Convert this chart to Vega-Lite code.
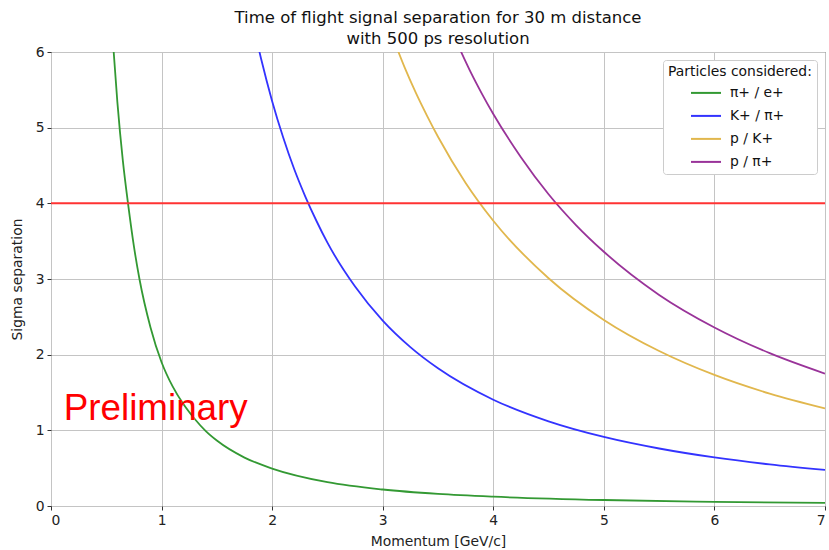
{
  "$schema": "https://vega.github.io/schema/vega-lite/v6.json",
  "autosize": {"type": "none"},
  "padding": {"left": 51, "top": 52, "right": 4, "bottom": 44},
  "width": 774,
  "height": 454,
  "background": "white",
  "title": {
    "text": ["Time of flight signal separation for 30 m distance", "with 500 ps resolution"],
    "font": "DejaVu Sans",
    "fontSize": 16.5,
    "fontWeight": "normal",
    "color": "#111111",
    "lineHeight": 21,
    "offset": -2
  },
  "config": {
    "view": {"stroke": "#333333", "strokeWidth": 1},
    "axis": {
      "labelFont": "DejaVu Sans",
      "labelFontSize": 13.9,
      "labelColor": "#222222",
      "titleFont": "DejaVu Sans",
      "titleFontSize": 13.9,
      "titleFontWeight": "normal",
      "titleColor": "#222222",
      "gridColor": "#c4c4c4",
      "gridWidth": 1,
      "domain": false,
      "tickColor": "#333333",
      "tickSize": 4,
      "labelPadding": 3
    }
  },
  "datasets": {
    "curves": [
      {"p": 0.55, "s": 6.34, "pair": "π+ / e+"},
      {"p": 0.6, "s": 5.34, "pair": "π+ / e+"},
      {"p": 0.65, "s": 4.56, "pair": "π+ / e+"},
      {"p": 0.7, "s": 3.96, "pair": "π+ / e+"},
      {"p": 0.75, "s": 3.43, "pair": "π+ / e+"},
      {"p": 0.8, "s": 3.0, "pair": "π+ / e+"},
      {"p": 0.9, "s": 2.36, "pair": "π+ / e+"},
      {"p": 1.0, "s": 1.9, "pair": "π+ / e+"},
      {"p": 1.1, "s": 1.58, "pair": "π+ / e+"},
      {"p": 1.2, "s": 1.34, "pair": "π+ / e+"},
      {"p": 1.3, "s": 1.15, "pair": "π+ / e+"},
      {"p": 1.4, "s": 0.99, "pair": "π+ / e+"},
      {"p": 1.5, "s": 0.865, "pair": "π+ / e+"},
      {"p": 1.75, "s": 0.64, "pair": "π+ / e+"},
      {"p": 2.0, "s": 0.495, "pair": "π+ / e+"},
      {"p": 2.5, "s": 0.315, "pair": "π+ / e+"},
      {"p": 3.0, "s": 0.218, "pair": "π+ / e+"},
      {"p": 3.5, "s": 0.16, "pair": "π+ / e+"},
      {"p": 4.0, "s": 0.123, "pair": "π+ / e+"},
      {"p": 5.0, "s": 0.079, "pair": "π+ / e+"},
      {"p": 6.0, "s": 0.055, "pair": "π+ / e+"},
      {"p": 7.0, "s": 0.041, "pair": "π+ / e+"},
      {"p": 1.85, "s": 6.22, "pair": "K+ / π+"},
      {"p": 1.9, "s": 5.91, "pair": "K+ / π+"},
      {"p": 2.0, "s": 5.35, "pair": "K+ / π+"},
      {"p": 2.1, "s": 4.87, "pair": "K+ / π+"},
      {"p": 2.2, "s": 4.45, "pair": "K+ / π+"},
      {"p": 2.3, "s": 4.09, "pair": "K+ / π+"},
      {"p": 2.4, "s": 3.77, "pair": "K+ / π+"},
      {"p": 2.5, "s": 3.48, "pair": "K+ / π+"},
      {"p": 2.75, "s": 2.9, "pair": "K+ / π+"},
      {"p": 3.0, "s": 2.45, "pair": "K+ / π+"},
      {"p": 3.25, "s": 2.1, "pair": "K+ / π+"},
      {"p": 3.5, "s": 1.82, "pair": "K+ / π+"},
      {"p": 4.0, "s": 1.405, "pair": "K+ / π+"},
      {"p": 4.5, "s": 1.119, "pair": "K+ / π+"},
      {"p": 5.0, "s": 0.913, "pair": "K+ / π+"},
      {"p": 5.5, "s": 0.76, "pair": "K+ / π+"},
      {"p": 6.0, "s": 0.642, "pair": "K+ / π+"},
      {"p": 6.5, "s": 0.55, "pair": "K+ / π+"},
      {"p": 7.0, "s": 0.477, "pair": "K+ / π+"},
      {"p": 3.05, "s": 6.35, "pair": "p / K+"},
      {"p": 3.1, "s": 6.16, "pair": "p / K+"},
      {"p": 3.2, "s": 5.79, "pair": "p / K+"},
      {"p": 3.3, "s": 5.46, "pair": "p / K+"},
      {"p": 3.4, "s": 5.16, "pair": "p / K+"},
      {"p": 3.5, "s": 4.88, "pair": "p / K+"},
      {"p": 3.75, "s": 4.27, "pair": "p / K+"},
      {"p": 4.0, "s": 3.77, "pair": "p / K+"},
      {"p": 4.5, "s": 3.01, "pair": "p / K+"},
      {"p": 5.0, "s": 2.459, "pair": "p / K+"},
      {"p": 5.5, "s": 2.048, "pair": "p / K+"},
      {"p": 6.0, "s": 1.732, "pair": "p / K+"},
      {"p": 6.5, "s": 1.485, "pair": "p / K+"},
      {"p": 7.0, "s": 1.289, "pair": "p / K+"},
      {"p": 3.65, "s": 6.19, "pair": "p / π+"},
      {"p": 3.7, "s": 6.03, "pair": "p / π+"},
      {"p": 3.8, "s": 5.72, "pair": "p / π+"},
      {"p": 3.9, "s": 5.44, "pair": "p / π+"},
      {"p": 4.0, "s": 5.18, "pair": "p / π+"},
      {"p": 4.25, "s": 4.61, "pair": "p / π+"},
      {"p": 4.5, "s": 4.12, "pair": "p / π+"},
      {"p": 4.75, "s": 3.71, "pair": "p / π+"},
      {"p": 5.0, "s": 3.36, "pair": "p / π+"},
      {"p": 5.5, "s": 2.79, "pair": "p / π+"},
      {"p": 6.0, "s": 2.36, "pair": "p / π+"},
      {"p": 6.5, "s": 2.02, "pair": "p / π+"},
      {"p": 7.0, "s": 1.75, "pair": "p / π+"}
    ],
    "threshold": [{"level": 4}],
    "label": [{"p": 0.115, "s": 1.14, "text": "Preliminary"}]
  },
  "layer": [
    {
      "data": {"name": "curves"},
      "mark": {"type": "line", "clip": true, "strokeWidth": 1.8, "interpolate": "monotone"},
      "encoding": {
        "x": {
          "field": "p", "type": "quantitative",
          "scale": {"domain": [0, 7], "nice": false, "zero": false},
          "axis": {"title": "Momentum [GeV/c]", "values": [0, 1, 2, 3, 4, 5, 6, 7], "format": "d", "titlePadding": 8, "grid": true}
        },
        "y": {
          "field": "s", "type": "quantitative",
          "scale": {"domain": [0, 6], "nice": false},
          "axis": {"title": "Sigma separation", "values": [0, 1, 2, 3, 4, 5, 6], "format": "d", "titlePadding": 11, "grid": true}
        },
        "color": {
          "field": "pair", "type": "nominal",
          "scale": {
            "domain": ["π+ / e+", "K+ / π+", "p / K+", "p / π+"],
            "range": ["#339933", "#3333ff", "#e1b74d", "#993399"]
          },
          "legend": {
            "title": "Particles considered:",
            "orient": "none",
            "legendX": 612,
            "legendY": 8,
            "titleFont": "DejaVu Sans",
            "titleFontSize": 13.9,
            "titleFontWeight": "normal",
            "titleColor": "#111111",
            "titlePadding": -2,
            "labelFont": "DejaVu Sans",
            "labelFontSize": 13.9,
            "labelColor": "#111111",
            "symbolType": "stroke",
            "symbolSize": 900,
            "symbolStrokeWidth": 2,
            "symbolOffset": 22,
            "labelOffset": 8,
            "rowPadding": -3.3,
            "padding": 5,
            "fillColor": "white",
            "strokeColor": "#cccccc",
            "cornerRadius": 3
          }
        }
      }
    },
    {
      "data": {"name": "threshold"},
      "mark": {"type": "rule", "color": "#ff3333", "strokeWidth": 2},
      "encoding": {"y": {"field": "level", "type": "quantitative"}}
    },
    {
      "data": {"name": "label"},
      "mark": {"type": "text", "align": "left", "baseline": "alphabetic", "font": "Liberation Sans", "fontSize": 36.8, "color": "#ff0000"},
      "encoding": {
        "x": {"field": "p", "type": "quantitative"},
        "y": {"field": "s", "type": "quantitative"},
        "text": {"field": "text"}
      }
    }
  ]
}
